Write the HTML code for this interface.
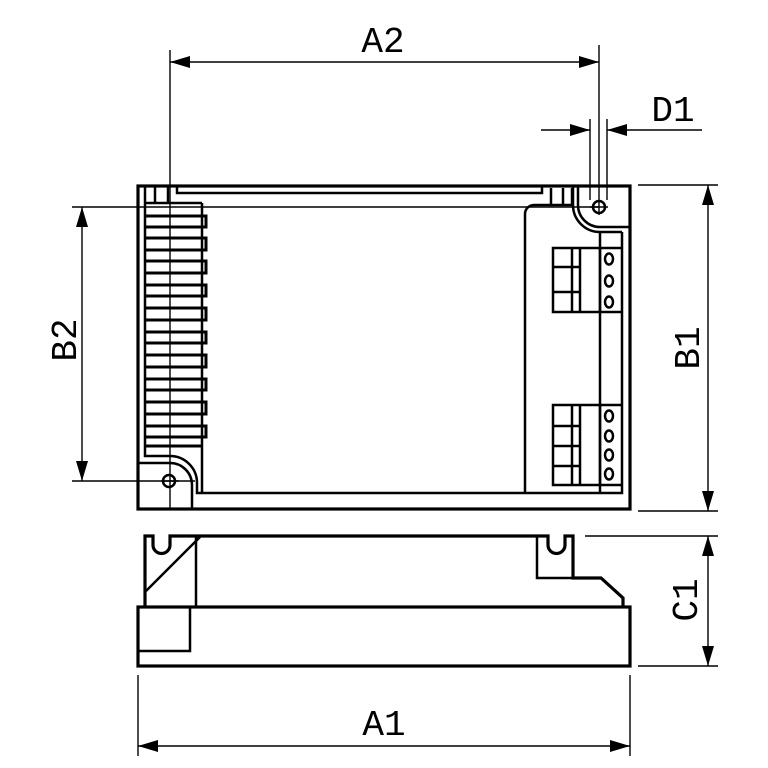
<!DOCTYPE html>
<html><head><meta charset="utf-8"><style>html,body{margin:0;padding:0;background:#fff}svg{display:block}</style></head>
<body>
<svg width="768" height="768" viewBox="0 0 768 768" xmlns="http://www.w3.org/2000/svg" fill="none" stroke="#000">
<defs>
<marker id="ar" markerWidth="20" markerHeight="12" refX="20" refY="6" orient="auto" markerUnits="userSpaceOnUse"><path d="M0,0 L20,6 L0,12 Z" fill="#000" stroke="none"/></marker>
</defs>
<g font-family="Liberation Mono, monospace" font-size="36" fill="#000" stroke="none">
<text x="383" y="52" text-anchor="middle">A2</text>
<text x="673" y="121" text-anchor="middle">D1</text>
<text x="384" y="735" text-anchor="middle">A1</text>
<text transform="translate(76,340) rotate(-90)" text-anchor="middle">B2</text>
<text transform="translate(699,348) rotate(-90)" text-anchor="middle">B1</text>
<text transform="translate(697,600) rotate(-90)" text-anchor="middle">C1</text>
</g>
<g stroke-width="1.4">
<line x1="170" y1="50" x2="170" y2="509"/>
<line x1="599" y1="45" x2="599" y2="215"/>
<path d="M384,62 L599,62" marker-end="url(#ar)"/>
<path d="M384,62 L170,62" marker-end="url(#ar)"/>
<line x1="590" y1="119" x2="590" y2="200"/>
<line x1="607" y1="119" x2="607" y2="200"/>
<path d="M541,130 L590,130" marker-end="url(#ar)"/>
<path d="M702,130 L607,130" marker-end="url(#ar)"/>
<line x1="72" y1="207" x2="599" y2="207"/>
<line x1="72" y1="481" x2="195" y2="481"/>
<path d="M82,340 L82,207" marker-end="url(#ar)"/>
<path d="M82,340 L82,481" marker-end="url(#ar)"/>
<line x1="638" y1="185" x2="718" y2="185"/>
<line x1="638" y1="511" x2="718" y2="511"/>
<path d="M708,340 L708,185" marker-end="url(#ar)"/>
<path d="M708,340 L708,511" marker-end="url(#ar)"/>
<line x1="585" y1="536" x2="718" y2="536"/>
<line x1="638" y1="666" x2="718" y2="666"/>
<path d="M708,600 L708,536" marker-end="url(#ar)"/>
<path d="M708,600 L708,666" marker-end="url(#ar)"/>
<line x1="138" y1="675" x2="138" y2="756"/>
<line x1="630" y1="675" x2="630" y2="756"/>
<path d="M384,746 L138,746" marker-end="url(#ar)"/>
<path d="M384,746 L630,746" marker-end="url(#ar)"/>
<line x1="161" y1="481" x2="179" y2="481"/>
<line x1="590" y1="207" x2="608" y2="207"/>
</g>
<g stroke-width="3.2">
<rect x="138" y="186" width="492" height="323"/>
</g>
<g stroke-width="2.5">
<path d="M145,186 V456 H170 A27,27 0 0 1 197,483 V493 H622 V232"/>
<path d="M138,463 H170 A22,22 0 0 1 192,485 V509"/>
<path d="M177,186 V193 H542 V186"/>
<line x1="155" y1="186" x2="155" y2="203"/>
<line x1="168" y1="186" x2="168" y2="203"/>
<line x1="551" y1="188" x2="551" y2="205"/>
<line x1="563" y1="188" x2="563" y2="205"/>
<line x1="572" y1="188" x2="572" y2="205"/>
<path d="M202,203 V493"/>
<path d="M145,203 H202"/>
<path d="M525,493 V214 A9,9 0 0 1 534,205 H573"/>
<path d="M573,186 V205 A27,27 0 0 0 600,232 H622"/>
<path d="M578,186 V205 A22,22 0 0 0 600,227 H630"/>
<line x1="600" y1="232" x2="600" y2="493"/>
<line x1="600" y1="248" x2="622" y2="248"/>
<line x1="600" y1="312" x2="622" y2="312"/>
<line x1="600" y1="405" x2="622" y2="405"/>
<line x1="600" y1="485" x2="622" y2="485"/>
<rect x="553" y="248" width="47" height="64"/>
<line x1="572" y1="248" x2="572" y2="312"/><line x1="580" y1="248" x2="580" y2="312"/>
<line x1="553" y1="267" x2="580" y2="267"/><line x1="553" y1="292" x2="580" y2="292"/>
<rect x="553" y="405" width="47" height="80"/>
<line x1="572" y1="405" x2="572" y2="485"/><line x1="580" y1="405" x2="580" y2="485"/>
<line x1="553" y1="426" x2="580" y2="426"/><line x1="553" y1="446" x2="580" y2="446"/><line x1="553" y1="466" x2="580" y2="466"/>
<ellipse cx="609" cy="259" rx="4" ry="5.5"/><ellipse cx="609" cy="281" rx="4" ry="5.5"/><ellipse cx="609" cy="302" rx="4" ry="5.5"/>
<ellipse cx="609" cy="416" rx="4" ry="5.5"/><ellipse cx="609" cy="436" rx="4" ry="5.5"/><ellipse cx="609" cy="455" rx="4" ry="5.5"/><ellipse cx="609" cy="474" rx="4" ry="5.5"/>
<circle cx="169" cy="481" r="6"/>
<circle cx="599" cy="207" r="6"/>
</g>
<g stroke-width="3">
<path d="M145,216 H206 V227 H145 M145,238 H206 V250 H145 M145,261 H206 V273 H145 M145,285 H206 V296 H145 M145,308 H206 V320 H145 M145,332 H206 V343 H145 M145,355 H206 V367 H145 M145,379 H206 V390 H145 M145,402 H206 V414 H145 M145,426 H206 V437 H145 M145,446 H202"/>
</g>
<g stroke-width="3.2">
<rect x="138" y="607" width="492" height="59"/>
<path d="M145,607 V536 H153 V545 A8.5,8.5 0 0 0 170,545 V536 H548 V545 A8.5,8.5 0 0 0 565,545 V536 H573 V578 H601 L623,598 V607"/>
</g>
<g stroke-width="2.5">
<path d="M200,537 L146,591"/>
<line x1="196" y1="537" x2="196" y2="607"/>
<path d="M138,651 H190 V607"/>
<path d="M537,536 V578 H573"/>
</g>
</svg>
</body></html>
